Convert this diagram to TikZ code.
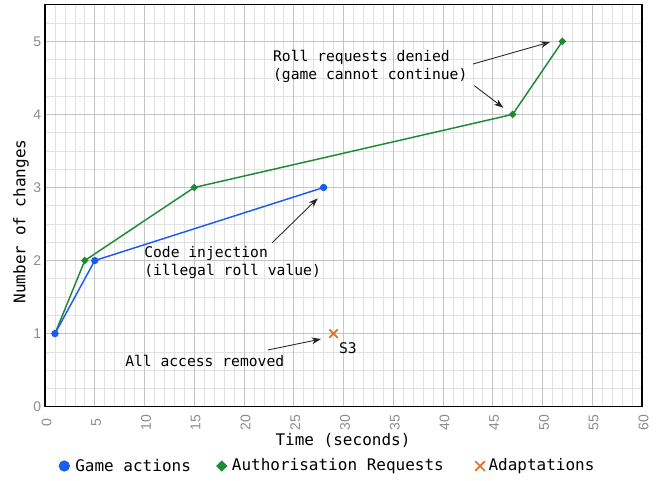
\documentclass[tikz,border=0pt]{standalone}
\usepackage{fontspec}
\setmonofont{DejaVu Sans Mono}
\setsansfont{Liberation Sans}
\usetikzlibrary{positioning,shapes.geometric,shapes.misc,arrows.meta}

\definecolor{gameblue}{RGB}{28,92,240}
\definecolor{authgreen}{RGB}{30,138,52}
\definecolor{adaptorange}{RGB}{228,112,36}
\definecolor{minorgray}{RGB}{226,226,226}
\definecolor{majorgray}{RGB}{196,196,196}
\definecolor{tickgray}{RGB}{140,140,140}

\begin{document}
\begin{tikzpicture}[x=7.4625pt,y=54.8pt,>=Stealth,
    game node/.style={circle,fill=gameblue,inner sep=0pt,minimum size=5.5pt},
    auth node/.style={diamond,fill=authgreen,inner sep=0pt,minimum size=6pt},
    adapt node/.style={cross out,draw=adaptorange,line width=1.3pt,inner sep=0pt,minimum size=5pt},
    game line/.style={gameblue,line width=1.1pt},
    auth line/.style={authgreen,line width=1.1pt},
    note/.style={font=\ttfamily\fontsize{11}{13.5}\selectfont,align=left,anchor=west,inner sep=0pt},
    note arrow/.style={-{Stealth[length=7pt,width=5pt]},black!85,line width=0.65pt},
    tick label/.style={font=\sffamily\fontsize{10.5}{12}\selectfont,text=tickgray,inner sep=0pt},
    big label/.style={font=\ttfamily\fontsize{12}{14}\selectfont,inner sep=0pt}]

    \useasboundingbox (-4.523,-1.017) rectangle (61.81,5.566);

    % grid and frame
    \draw[minorgray,line width=0.5pt,xstep=1,ystep=0.25] (0,0) grid (60,5.5);
    \draw[majorgray,line width=0.6pt,xstep=5,ystep=1] (0,0) grid (60,5.5);
    \draw[black,line width=0.8pt] (0,0) rectangle (60,5.5);

    % ticks
    \foreach \x in {0,5,...,60}
        \node[tick label,rotate=90] (xt\x) at (\x+0.15,-0.223) {\x};
    \foreach \y in {0,...,5}
        \node[tick label,anchor=east] (yt\y) at (-0.35,\y) {\y};

    \node[big label] (xlab) at (29.95,-0.459) {Time (seconds)};
    \node[big label,rotate=90] (ylab) at (-2.41,2.535) {Number of changes};

    % authorisation requests
    \node[auth node] (a1) at (1,1) {};
    \node[auth node] (a2) at (4,2) {};
    \node[auth node] (a3) at (15,3) {};
    \node[auth node] (a4) at (47,4) {};
    \node[auth node] (a5) at (52,5) {};
    \draw[auth line] (a1.center) -- (a2.center) -- (a3.center) -- (a4.center) -- (a5.center);

    % game actions
    \node[game node] (g1) at (1,1) {};
    \node[game node] (g2) at (5,2) {};
    \node[game node] (g3) at (28,3) {};
    \draw[game line] (g1.center) -- (g2.center) -- (g3.center);

    % adaptation
    \node[adapt node] (s3) at (29,1) {};
    \node[note,anchor=center] (s3lab) at (30.45,0.80) {S3};

    % notes
    \node[note] (denied) at (22.9,4.65) {Roll requests denied\\(game cannot continue)};
    \coordinate (d1) at (43.02,4.69);
    \coordinate (d1tip) at (50.75,4.99);
    \coordinate (d2) at (43.15,4.393);
    \coordinate (d2tip) at (46.06,4.092);
    \draw[note arrow] (d1) -- (d1tip);
    \draw[note arrow] (d2) -- (d2tip);

    \node[note] (inject) at (9.95,1.967) {Code injection\\(illegal roll value)};
    \coordinate (i1) at (22.84,2.245);
    \coordinate (i1tip) at (27.41,2.852);
    \draw[note arrow] (i1) -- (i1tip);

    \node[note] (removed) at (8.04,0.63) {All access removed};
    \coordinate (r1) at (22.41,0.776);
    \coordinate (r1tip) at (27.74,0.926);
    \draw[note arrow] (r1) -- (r1tip);

    % legend
    \node[game node,minimum size=8.5pt] (leg1) at (1.94,-0.812) {};
    \node[big label,anchor=west] (leg1txt) at (3.02,-0.812) {Game actions};
    \node[auth node,minimum size=8.5pt] (leg2) at (17.76,-0.812) {};
    \node[big label,anchor=west] (leg2txt) at (18.76,-0.812) {Authorisation Requests};
    \node[adapt node,minimum size=6pt] (leg3) at (43.72,-0.812) {};
    \node[big label,anchor=west] (leg3txt) at (44.55,-0.812) {Adaptations};

\end{tikzpicture}
\end{document}
